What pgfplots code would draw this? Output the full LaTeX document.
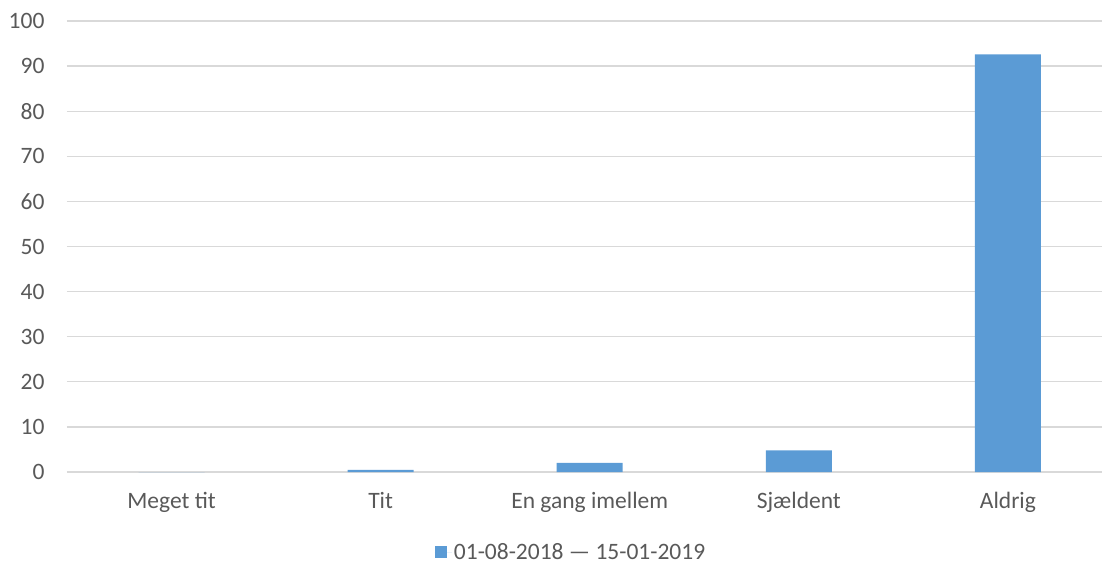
\documentclass[border=0pt]{standalone}
\usepackage{fontspec}
\setmainfont{Carlito}
\usepackage{pgfplots}
\pgfplotsset{compat=1.18}
\definecolor{barblue}{HTML}{5B9BD5}
\definecolor{txtgray}{HTML}{595959}
\definecolor{gridgray}{HTML}{D9D9D9}
\begin{document}
\begin{tikzpicture}
\useasboundingbox (-67pt,-93pt) rectangle (1035pt,472pt);
\begin{axis}[
  at={(0pt,0pt)}, anchor=south west,
  scale only axis,
  width=1035pt, height=451pt,
  xmin=-0.5, xmax=4.45,
  ymin=0, ymax=100,
  ytick={0,10,...,100},
  xtick={0,1,2,3,4},
  xticklabels={Meget tit,Tit,En gang imellem,Sjældent,Aldrig},
  axis line style={draw=none},
  major tick length=0pt,
  ymajorgrids,
  grid style={gridgray, line width=1.3pt},
  ticklabel style={font=\fontsize{23.5}{28}\selectfont, text=txtgray},
  /pgf/number format/assume math mode=true,
  yticklabel style={anchor=east, xshift=-19pt},
  xticklabel style={yshift=-17pt},
  clip=false,
  legend style={at={(0.487,-0.178)}, anchor=center, draw=none, fill=none,
    font=\fontsize{23.5}{28}\selectfont, text=txtgray,
    legend cell align=left},
]
\addplot[ybar, bar width=66pt, fill=barblue, draw=none,
  legend image code/.code={\fill[barblue] (0pt,-6pt) rectangle (12pt,6pt); \path (0pt,0pt) -- (17pt,0pt);}]
  coordinates {(0,0) (1,0.45) (2,2.0) (3,4.8) (4,92.6)};
\addlegendentry{01-08-2018 — 15-01-2019}
\end{axis}
\end{tikzpicture}
\end{document}
